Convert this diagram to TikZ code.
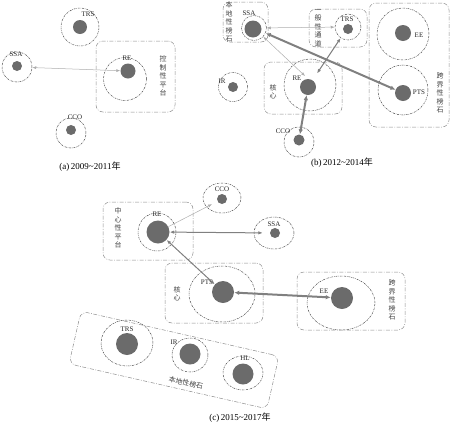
\documentclass[tikz,border=0pt]{standalone}
\usepackage{fontspec}
\setmainfont{Liberation Serif}
\newfontfamily\cjk{Noto Sans CJK SC}
\usetikzlibrary{arrows.meta,shapes.geometric}
\begin{document}
\begin{tikzpicture}[x=1pt,y=-1pt,
  ring/.style={circle,draw=black!70,line width=0.5pt,dash pattern=on 1.8pt off 1pt on 0.5pt off 1pt,inner sep=0pt,minimum size=#1},
  oring/.style 2 args={ellipse,draw=black!70,line width=0.5pt,dash pattern=on 1.8pt off 1pt on 0.5pt off 1pt,inner sep=0pt,minimum width=#1,minimum height=#2},
  core/.style={circle,fill=black!58,inner sep=0pt,minimum size=#1},
  grp/.style 2 args={draw=black!45,rounded corners=7pt,line width=0.5pt,dash pattern=on 4pt off 1.5pt on 0.8pt off 1.5pt,minimum width=#1,minimum height=#2,inner sep=0pt},
  lab/.style={font=\fontsize{7}{8}\selectfont,inner sep=0pt,text=black!85},
  vtext/.style={font=\cjk\fontsize{7}{8.4}\selectfont,align=center,inner sep=0pt,text=black!75},
  captext/.style={font=\fontsize{9}{10}\selectfont,inner sep=0pt},
  larrow/.style={{Latex[length=4pt,width=3pt]}-{Latex[length=4pt,width=3pt]},draw=black!32,line width=0.5pt},
  marrow/.style={{Latex[length=4.5pt,width=3.5pt]}-{Latex[length=4.5pt,width=3.5pt]},draw=black!50,line width=1pt},
  harrow/.style={{Latex[length=5pt,width=4.5pt]}-{Latex[length=5pt,width=4.5pt]},draw=black!50,line width=2pt}
]
\useasboundingbox (0,0) rectangle (450,429);

% ---------------- panel (a)
\node[grp={79}{71}] (aBox) at (135.5,76.5) {};
\node[vtext] (aBoxT) at (163,76) {控\\制\\性\\平\\台};
\node[ring=43] (aREr) at (125,79) {};
\node[core=15] (aRE) at (128,71) {};
\node[lab] (aREl) at (127,58) {RE};
\node[ring=38] (aTRSr) at (80,27) {};
\node[core=14] (aTRS) at (80,27) {};
\node[lab] (aTRSl) at (88,14) {TRS};
\node[ring=30] (aSSAr) at (17,67) {};
\node[core=10] (aSSA) at (17,66) {};
\node[lab] (aSSAl) at (16,54) {SSA};
\node[ring=30] (aCCOr) at (71,133) {};
\node[core=10] (aCCO) at (71,130) {};
\node[lab] (aCCOl) at (75,117) {CCO};
\draw[larrow] (aSSAr) -- (aRE);
\node[captext] (aCap) at (90,167) {(a)\,2009\char`~2011{\cjk 年}};

% ---------------- panel (b)
\node[grp={45}{40}] (bBox1) at (245.5,22) {};
\node[vtext] (bBox1T) at (229,22) {本\\地\\性\\榜\\石};
\node[grp={58}{38}] (bBox2) at (338,28) {};
\node[vtext] (bBox2T) at (318,28) {一\\般\\性\\通\\道};
\node[grp={80}{124}] (bBox3) at (409,65) {};
\node[vtext] (bBox3T) at (440,93) {跨\\界\\性\\榜\\石};
\node[grp={78}{52}] (bBox4) at (303,88) {};
\node[vtext] (bBox4T) at (273,92) {核\\心};

\node[ring=25] (bSSAr) at (254,28) {};
\node[core=17] (bSSA) at (253,29) {};
\node[lab] (bSSAl) at (249,13) {SSA};
\node[ring=26] (bTRSr) at (348,27) {};
\node[core=10] (bTRS) at (348,29) {};
\node[lab] (bTRSl) at (347,19) {TRS};
\node[ring=52] (bEEr) at (403,34) {};
\node[core=16] (bEE) at (403,33) {};
\node[lab] (bEEl) at (419,35) {EE};
\node[ring=50] (bPTSr) at (403,90) {};
\node[core=16] (bPTS) at (403,93) {};
\node[lab] (bPTSl) at (419,92) {PTS};
\node[ring=29] (bIRr) at (233,87) {};
\node[core=10] (bIR) at (233,87) {};
\node[lab] (bIRl) at (222,81) {IR};
\node[ring=52] (bREr) at (310,85) {};
\node[core=16] (bRE) at (308,87) {};
\node[lab] (bREl) at (297,78) {RE};
\node[ring=30] (bCCOr) at (299,142) {};
\node[core=11] (bCCO) at (299,140) {};
\node[lab] (bCCOl) at (283,131) {CCO};

\draw[larrow] (bSSAr) -- (bTRSr);
\draw[larrow,shorten >=4pt] (bSSAr) -- (bRE.north);
\draw[marrow,shorten >=8pt] (bTRSr) -- (bRE);
\draw[harrow] (bSSAr) -- (bPTS);
\draw[harrow] (bRE) -- (bCCO);
\node[captext] (bCap) at (342,163) {(b)\,2012\char`~2014{\cjk 年}};

% ---------------- panel (c)
\node[grp={90}{58}] (cBox1) at (148,231) {};
\node[vtext] (cBox1T) at (118,228) {中\\心\\性\\平\\台};
\node[grp={98}{60}] (cBox2) at (214,293) {};
\node[vtext] (cBox2T) at (177,294) {核\\心};
\node[grp={108}{58}] (cBox3) at (351,301) {};
\node[vtext] (cBox3T) at (392,300) {跨\\界\\性\\榜\\石};
\node[grp={203}{54},rotate=-12.8] (cBox4) at (174,360) {};
\node[font=\cjk\fontsize{7}{8}\selectfont,text=black!75,rotate=-13,inner sep=0pt] (cBox4T) at (186,383) {本地性榜石};

\node[oring={38}{30}] (cCCOr) at (222,198) {};
\node[core=10] (cCCO) at (222,199) {};
\node[lab] (cCCOl) at (222,189) {CCO};
\node[ring=38] (cREr) at (157,232) {};
\node[core=23] (cRE) at (158,232) {};
\node[lab] (cREl) at (157,214) {RE};
\node[oring={40}{32}] (cSSAr) at (274,233) {};
\node[core=10] (cSSA) at (275,233) {};
\node[lab] (cSSAl) at (274,224) {SSA};
\node[oring={66}{56}] (cPTSr) at (222,294) {};
\node[core=22] (cPTS) at (223,292) {};
\node[lab] (cPTSl) at (207,282) {PTS};
\node[oring={68}{54}] (cEEr) at (341,303) {};
\node[core=22] (cEE) at (342,298) {};
\node[lab] (cEEl) at (324,291) {EE};
\node[oring={52}{46}] (cTRSr) at (127,343) {};
\node[core=22] (cTRS) at (127,344) {};
\node[lab] (cTRSl) at (127,329) {TRS};
\node[oring={36}{34}] (cIRr) at (190,355) {};
\node[core=21] (cIR) at (190,354) {};
\node[lab] (cIRl) at (174,342) {IR};
\node[oring={40}{34}] (cHLr) at (243,373) {};
\node[core=21] (cHL) at (243,374) {};
\node[lab] (cHLl) at (245,358) {HL};

\draw[-{Latex[length=4pt,width=3pt]},draw=black!32,line width=0.5pt,shorten >=6pt] (cRE) -- (cCCO);
\draw[marrow,shorten >=7pt] (cRE) -- (cSSA);
\draw[marrow] (cRE) -- (cPTS);
\draw[harrow] (cPTS) -- (cEE);
\node[captext] (cCap) at (240,418) {(c)\,2015\char`~2017{\cjk 年}};
\end{tikzpicture}
\end{document}
